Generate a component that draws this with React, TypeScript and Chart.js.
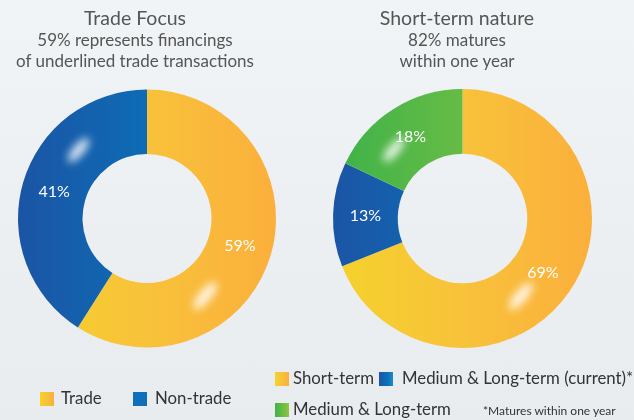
import React, { useEffect, useRef } from "react";
import { Chart, registerables } from "chart.js";
Chart.register(...registerables);

const tradeLabels = ["Trade", "Non-trade"];
const tradeValues = [59, 41];
const termLabels = ["Short-term", "Medium & Long-term (current)*", "Medium & Long-term"];
const termValues = [69, 13, 18];

const leftTitle = ["Trade Focus", "59% represents financings", "of underlined trade transactions"];
const rightTitle = ["Short-term nature", "82% matures", "within one year"];
const footnote = "*Matures within one year";

const FONT = "Lato, 'Noto Sans', sans-serif";

type Stops = [number, string][];
const yellowStops: Stops = [[0, "#f5d22d"], [0.5, "#f8c23a"], [1, "#fbaf3c"]];
const blueStops: Stops = [[0, "#1b55a5"], [0.65, "#0a72ba"], [1, "#1f8ac9"]];
const greenStops: Stops = [[0, "#3db24a"], [1, "#8fc63f"]];

function grad(chart: any, stops: Stops, fromX: number, toX: number) {
  const ctx = chart.ctx;
  const g = ctx.createLinearGradient(fromX, 0, toX, 0);
  stops.forEach(([o, c]) => g.addColorStop(o, c));
  return g;
}

const labelPlugin = {
  id: "pctLabels",
  afterDatasetsDraw(chart: any) {
    const ctx = chart.ctx;
    const meta = chart.getDatasetMeta(0);
    const ds = chart.data.datasets[0];
    const first = meta.data[0];
    if (!first) return;
    const cx = first.x, cy = first.y;
    const rMid = (first.outerRadius + first.innerRadius) / 2;
    // glossy highlights
    const hl = [
      { a: -135, rot: -50, len: 15, w: 5.5 },
      { a: 53, rot: -50, len: 17, w: 6 },
    ];
    ctx.save();
    ctx.filter = "blur(4px)";
    hl.forEach((h) => {
      const ang = (h.a * Math.PI) / 180;
      const x = cx + Math.cos(ang) * rMid;
      const y = cy + Math.sin(ang) * rMid;
      ctx.beginPath();
      ctx.ellipse(x, y, h.len, h.w, (h.rot * Math.PI) / 180, 0, Math.PI * 2);
      ctx.fillStyle = "rgba(255,255,255,0.85)";
      ctx.fill();
    });
    ctx.restore();
    ctx.save();
    ctx.fillStyle = "#ffffff";
    ctx.font = `16px ${FONT}`;
    ctx.textAlign = "center";
    ctx.textBaseline = "middle";
    meta.data.forEach((arc: any, i: number) => {
      const p = arc.tooltipPosition();
      ctx.fillText(ds.data[i] + "%", p.x, p.y);
    });
    ctx.restore();
  },
};

function Donut({ values, labels, stops, padding }: any) {
  const ref = useRef<HTMLCanvasElement>(null);
  useEffect(() => {
    const chart = new Chart(ref.current!, {
      type: "doughnut",
      data: {
        labels,
        datasets: [
          {
            data: values,
            borderWidth: 0,
            backgroundColor: (c: any) => {
              const ch = c.chart;
              const a = ch.chartArea;
              if (!a) return "#ccc";
              const s = stops[c.dataIndex];
              return grad(ch, s, a.left, a.right);
            },
          },
        ],
      },
      options: {
        animation: false,
        responsive: false,
        cutout: "50%",
        layout: { padding },
        plugins: { legend: { display: false }, tooltip: { enabled: false } },
      },
      plugins: [labelPlugin],
    });
    return () => chart.destroy();
  }, []);
  return <canvas ref={ref} width={317} height={420} style={{ position: "absolute", left: 0, top: 0 }} />;
}

function Swatch({ stops, x, y }: any) {
  const bg = `linear-gradient(to right, ${stops.map(([o, c]: any) => `${c} ${o * 100}%`).join(", ")})`;
  return <div style={{ position: "absolute", left: x, top: y, width: 14, height: 14, background: bg }} />;
}

function Txt({ x, y, size, color, children }: any) {
  return (
    <div style={{ position: "absolute", left: x, top: y, fontSize: size, color, fontFamily: FONT, whiteSpace: "nowrap", lineHeight: 1 }}>
      {children}
    </div>
  );
}

function TitleBlock({ cx, lines }: any) {
  return (
    <div style={{ position: "absolute", left: cx - 150, width: 300, top: 6, textAlign: "center", fontFamily: FONT, color: "#555" }}>
      <div style={{ fontSize: 19.5, lineHeight: "24px" }}>{lines[0]}</div>
      <div style={{ fontSize: 17, lineHeight: "20px" }}>{lines[1]}</div>
      <div style={{ fontSize: 17, lineHeight: "21px" }}>{lines[2]}</div>
    </div>
  );
}

const LS = 16.8;

export default function App() {
  useEffect(() => {
    document.body.style.margin = "0";
  }, []);
  return (
    <div
      style={{
        position: "relative",
        width: 634,
        height: 420,
        overflow: "hidden",
        background: "linear-gradient(to bottom, #f1f4f6, #e8ecef)",
      }}
    >
      <div style={{ position: "absolute", left: 0, top: 0, width: 317, height: 420 }}>
        <Donut values={tradeValues} labels={tradeLabels} stops={[yellowStops, blueStops]} padding={{ left: 18, right: 41, top: 89, bottom: 72 }} />
      </div>
      <div style={{ position: "absolute", left: 317, top: 0, width: 317, height: 420 }}>
        <Donut values={termValues} labels={termLabels} stops={[yellowStops, blueStops, greenStops]} padding={{ left: 16, right: 42, top: 89, bottom: 72 }} />
      </div>
      <TitleBlock cx={135} lines={leftTitle} />
      <TitleBlock cx={457} lines={rightTitle} />

      <Swatch stops={yellowStops} x={40} y={392} />
      <Txt x={61} y={390} size={LS} color="#333">{tradeLabels[0]}</Txt>
      <Swatch stops={[[0, "#0f6fba"], [1, "#0f6fba"]]} x={133} y={392} />
      <Txt x={155} y={390} size={LS} color="#333">{tradeLabels[1]}</Txt>

      <Swatch stops={yellowStops} x={275} y={372} />
      <Txt x={293} y={370} size={LS} color="#333">{termLabels[0]}</Txt>
      <Swatch stops={blueStops} x={379} y={372} />
      <Txt x={402} y={370} size={LS} color="#333">{termLabels[1]}</Txt>
      <Swatch stops={greenStops} x={275} y={403} />
      <Txt x={293} y={401} size={LS} color="#333">{termLabels[2]}</Txt>
      <Txt x={483} y={405} size={12} color="#333">{footnote}</Txt>
    </div>
  );
}
